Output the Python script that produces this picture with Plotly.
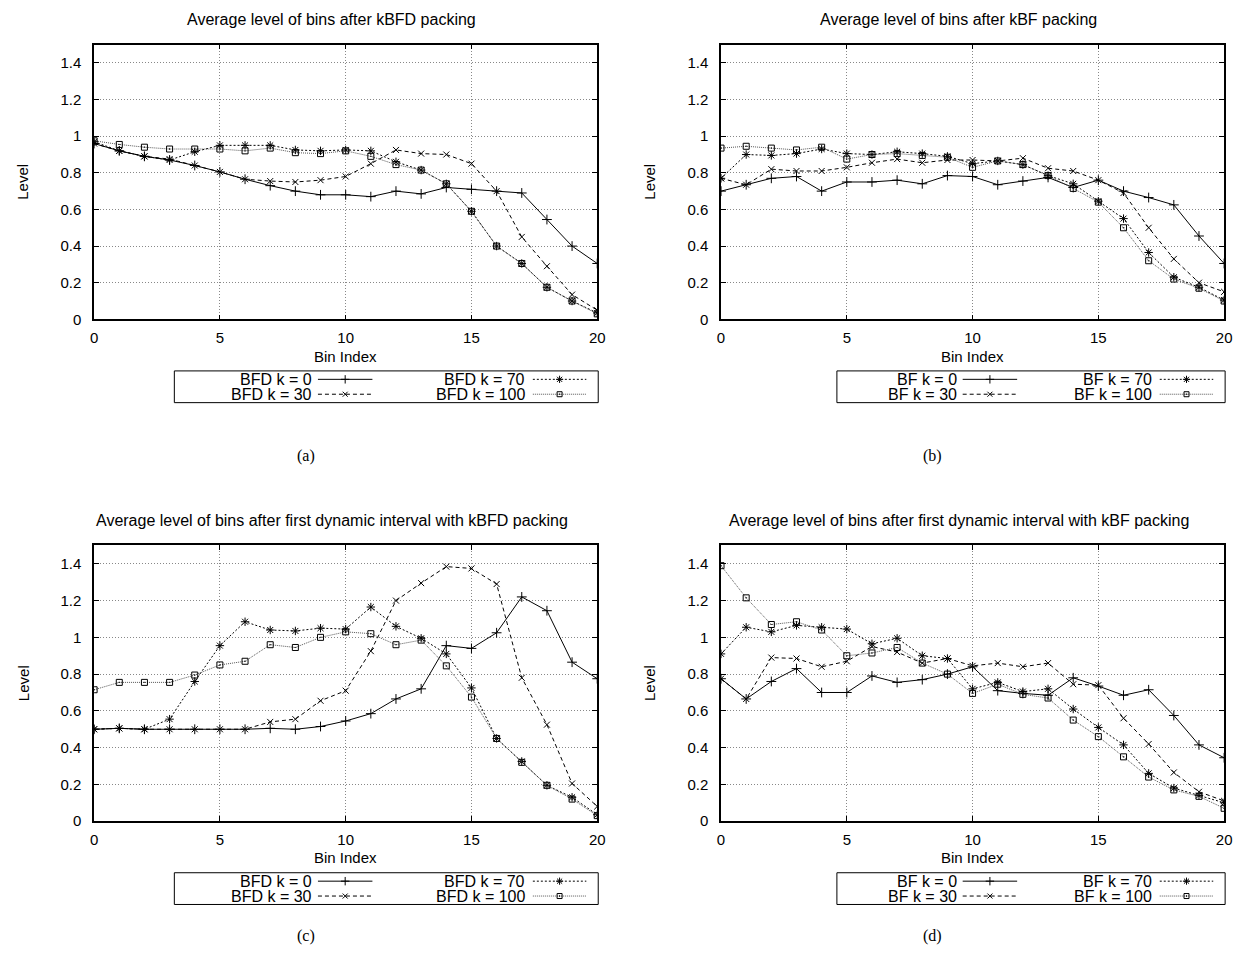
import plotly.graph_objects as go

W, H = 1246, 969

bins = list(range(21))
k_values = [0, 30, 70, 100]

# (a) Average level of bins after kBFD packing
a_k0 = [0.96, 0.92, 0.89, 0.87, 0.84, 0.805, 0.765, 0.73, 0.70, 0.68, 0.68, 0.67, 0.70, 0.685, 0.72, 0.71, 0.70, 0.69, 0.545, 0.40, 0.305]
a_k30 = [0.96, 0.92, 0.89, 0.875, 0.84, 0.805, 0.765, 0.755, 0.75, 0.76, 0.78, 0.85, 0.925, 0.905, 0.90, 0.85, 0.70, 0.45, 0.29, 0.135, 0.05]
a_k70 = [0.97, 0.92, 0.89, 0.87, 0.915, 0.95, 0.95, 0.95, 0.925, 0.92, 0.925, 0.92, 0.86, 0.815, 0.74, 0.59, 0.40, 0.305, 0.175, 0.10, 0.035]
a_k100 = [0.975, 0.955, 0.94, 0.93, 0.93, 0.93, 0.92, 0.935, 0.91, 0.905, 0.92, 0.89, 0.845, 0.815, 0.74, 0.59, 0.40, 0.305, 0.175, 0.10, 0.03]

# (b) Average level of bins after kBF packing
b_k0 = [0.70, 0.735, 0.77, 0.78, 0.70, 0.75, 0.75, 0.76, 0.74, 0.785, 0.78, 0.735, 0.755, 0.775, 0.72, 0.76, 0.70, 0.665, 0.625, 0.455, 0.305]
b_k30 = [0.77, 0.735, 0.82, 0.81, 0.81, 0.83, 0.855, 0.875, 0.855, 0.87, 0.87, 0.865, 0.88, 0.825, 0.81, 0.76, 0.69, 0.50, 0.33, 0.20, 0.15]
b_k70 = [0.77, 0.90, 0.895, 0.905, 0.93, 0.905, 0.90, 0.915, 0.905, 0.89, 0.85, 0.865, 0.845, 0.785, 0.74, 0.645, 0.55, 0.365, 0.23, 0.175, 0.105]
b_k100 = [0.935, 0.945, 0.935, 0.925, 0.94, 0.875, 0.90, 0.905, 0.895, 0.885, 0.83, 0.865, 0.845, 0.785, 0.715, 0.64, 0.50, 0.32, 0.22, 0.17, 0.10]

# (c) Average level of bins after first dynamic interval with kBFD packing
c_k0 = [0.50, 0.505, 0.50, 0.50, 0.50, 0.50, 0.50, 0.505, 0.50, 0.515, 0.545, 0.585, 0.665, 0.72, 0.955, 0.94, 1.025, 1.22, 1.145, 0.865, 0.775]
c_k30 = [0.50, 0.505, 0.50, 0.50, 0.50, 0.50, 0.50, 0.54, 0.555, 0.655, 0.71, 0.925, 1.20, 1.295, 1.385, 1.375, 1.29, 0.78, 0.525, 0.205, 0.08]
c_k70 = [0.50, 0.505, 0.50, 0.555, 0.76, 0.955, 1.085, 1.04, 1.035, 1.05, 1.045, 1.165, 1.06, 0.995, 0.91, 0.725, 0.45, 0.325, 0.195, 0.13, 0.035]
c_k100 = [0.715, 0.755, 0.755, 0.755, 0.795, 0.85, 0.87, 0.96, 0.945, 1.00, 1.03, 1.02, 0.96, 0.985, 0.845, 0.675, 0.45, 0.32, 0.195, 0.12, 0.03]

# (d) Average level of bins after first dynamic interval with kBF packing
d_k0 = [0.775, 0.665, 0.76, 0.83, 0.70, 0.70, 0.79, 0.755, 0.77, 0.80, 0.84, 0.71, 0.695, 0.685, 0.78, 0.735, 0.685, 0.715, 0.575, 0.415, 0.345]
d_k30 = [0.775, 0.665, 0.89, 0.885, 0.84, 0.87, 0.95, 0.92, 0.86, 0.885, 0.845, 0.86, 0.84, 0.86, 0.745, 0.74, 0.56, 0.42, 0.265, 0.16, 0.11]
d_k70 = [0.91, 1.055, 1.03, 1.065, 1.055, 1.045, 0.965, 0.995, 0.90, 0.885, 0.72, 0.755, 0.705, 0.72, 0.61, 0.51, 0.415, 0.26, 0.18, 0.14, 0.10]
d_k100 = [1.39, 1.215, 1.07, 1.085, 1.04, 0.90, 0.915, 0.945, 0.86, 0.80, 0.695, 0.745, 0.69, 0.67, 0.55, 0.46, 0.35, 0.24, 0.17, 0.135, 0.07]

x_ticks = [0, 5, 10, 15, 20]
y_ticks = [0, 0.2, 0.4, 0.6, 0.8, 1, 1.2, 1.4]
y_tick_text = ["0", "0.2", "0.4", "0.6", "0.8", "1", "1.2", "1.4"]

titles = [
    "Average level of bins after kBFD packing",
    "Average level of bins after kBF packing",
    "Average level of bins after first dynamic interval with kBFD packing",
    "Average level of bins after first dynamic interval with kBF packing",
]
algs = ["BFD", "BF", "BFD", "BF"]
captions = ["(a)", "(b)", "(c)", "(d)"]
series = [
    [a_k0, a_k30, a_k70, a_k100],
    [b_k0, b_k30, b_k70, b_k100],
    [c_k0, c_k30, c_k70, c_k100],
    [d_k0, d_k30, d_k70, d_k100],
]

styles = [
    dict(dash="solid", color="black", symbol="cross-thin", size=7),
    dict(dash="4px,3px", color="black", symbol="x-thin", size=6),
    dict(dash="2px,2px", color="black", symbol="asterisk-open", size=7),
    dict(dash="1px,1px", color="#555555", symbol="square-open-dot", size=6),
]

FONT = "Liberation Sans"
FS = 15

# pixel layout of each panel: plot box left, right, top, bottom, caption centre y
boxes = [
    (91, 599, 45, 322, 460),
    (724, 1232, 45, 322, 460),
    (91, 599, 550, 828, 944),
    (724, 1232, 550, 828, 944),
]


def px(p):
    return p / W


def py(p):
    return 1 - p / H


fig = go.Figure()
annotations = []
shapes = []
layout_axes = {}

for i in range(4):
    L, R, T, B, CY = boxes[i]
    n = i + 1
    xa = "x" if n == 1 else f"x{n}"
    ya = "y" if n == 1 else f"y{n}"
    for j in range(4):
        st = styles[j]
        fig.add_trace(go.Scatter(
            x=bins, y=series[i][j], mode="lines+markers", xaxis=xa, yaxis=ya,
            line=dict(color=st["color"], width=1, dash=st["dash"]),
            marker=dict(symbol=st["symbol"], size=st["size"], color="black",
                        line=dict(color="black", width=1)),
            showlegend=False, hoverinfo="skip"))
    axis_common = dict(showline=True, linecolor="black", linewidth=1.5, mirror="allticks",
                       ticks="inside", ticklen=5, tickcolor="black", showgrid=True,
                       gridcolor="#888888", griddash="1px,2px", gridwidth=1, zeroline=False,
                       tickfont=dict(family=FONT, size=FS, color="black"))
    layout_axes["xaxis" if n == 1 else f"xaxis{n}"] = dict(
        domain=[px(L), px(R)], range=[0, 20], tickvals=x_ticks, anchor=ya,
        ticklabelstandoff=4, **axis_common)
    layout_axes["yaxis" if n == 1 else f"yaxis{n}"] = dict(
        domain=[py(B), py(T)], range=[0, 1.5], tickvals=y_ticks, ticktext=y_tick_text,
        anchor=xa, ticklabelstandoff=8, **axis_common)

    cx = (L + R) / 2 - 14
    annotations.append(dict(text=titles[i], x=px(cx), y=py(T - 25), xref="paper", yref="paper",
                            showarrow=False, font=dict(family=FONT, size=FS + 1, color="black"),
                            xanchor="center", yanchor="middle"))
    annotations.append(dict(text="Level", x=px(L - 72), y=py((T + B) / 2), xref="paper", yref="paper",
                            showarrow=False, textangle=-90, font=dict(family=FONT, size=FS, color="black"),
                            xanchor="center", yanchor="middle"))
    annotations.append(dict(text="Bin Index", x=px((L + R) / 2), y=py(B + 37), xref="paper", yref="paper",
                            showarrow=False, font=dict(family=FONT, size=FS, color="black"),
                            xanchor="center", yanchor="middle"))
    annotations.append(dict(text=captions[i], x=px(L + 214), y=py(CY), xref="paper", yref="paper",
                            showarrow=False, font=dict(family="Liberation Serif", size=16, color="black"),
                            xanchor="center", yanchor="middle"))

    # legend
    dw = 0 if algs[i] == "BFD" else 18
    lw = 428 - 2 * dw
    lL, lR = R + 1 - lw, R + 1
    lT, lB = B + 52, B + 84
    shapes.append(dict(type="rect", xref="paper", yref="paper", x0=px(lL), x1=px(lR),
                       y0=py(lB), y1=py(lT), line=dict(color="black", width=1)))
    lx = f"x{n + 4}"
    ly = f"y{n + 4}"
    lh = lB - lT
    layout_axes[f"xaxis{n + 4}"] = dict(domain=[px(lL), px(lR)], range=[0, lw], visible=False,
                                        anchor=ly, fixedrange=True)
    layout_axes[f"yaxis{n + 4}"] = dict(domain=[py(lB), py(lT)], range=[lh, 0], visible=False,
                                        anchor=lx, fixedrange=True)
    col_text = [141 - dw, 356 - 2 * dw]
    col_s0 = [145 - dw, 362 - 2 * dw]
    col_s1 = [200 - dw, 416 - 2 * dw]
    rows = [8.5, 23.5]
    for j in range(4):
        col = j // 2
        row = j % 2
        st = styles[j]
        s0, s1 = col_s0[col], col_s1[col]
        yy = rows[row]
        fig.add_trace(go.Scatter(
            x=[s0, (s0 + s1) / 2, s1], y=[yy, yy, yy], mode="lines+markers", xaxis=lx, yaxis=ly,
            line=dict(color=st["color"], width=1, dash=st["dash"]),
            marker=dict(symbol=st["symbol"], size=st["size"] - 1, color="black", opacity=[0, 1, 0],
                        line=dict(color="black", width=1)),
            showlegend=False, hoverinfo="skip"))
        annotations.append(dict(text=f"{algs[i]} k = {k_values[j]}", x=px(lL + col_text[col]),
                                y=py(lT + yy), xref="paper", yref="paper", showarrow=False,
                                font=dict(family=FONT, size=FS + 1, color="black"),
                                xanchor="right", yanchor="middle"))

fig.update_layout(
    width=W, height=H, margin=dict(l=0, r=0, t=0, b=0),
    paper_bgcolor="white", plot_bgcolor="white",
    annotations=annotations, shapes=shapes, showlegend=False,
    **layout_axes)

fig.write_html("out.html", config={"displayModeBar": False},
               post_script="document.body.style.margin='0px';document.body.style.overflow='hidden';")
